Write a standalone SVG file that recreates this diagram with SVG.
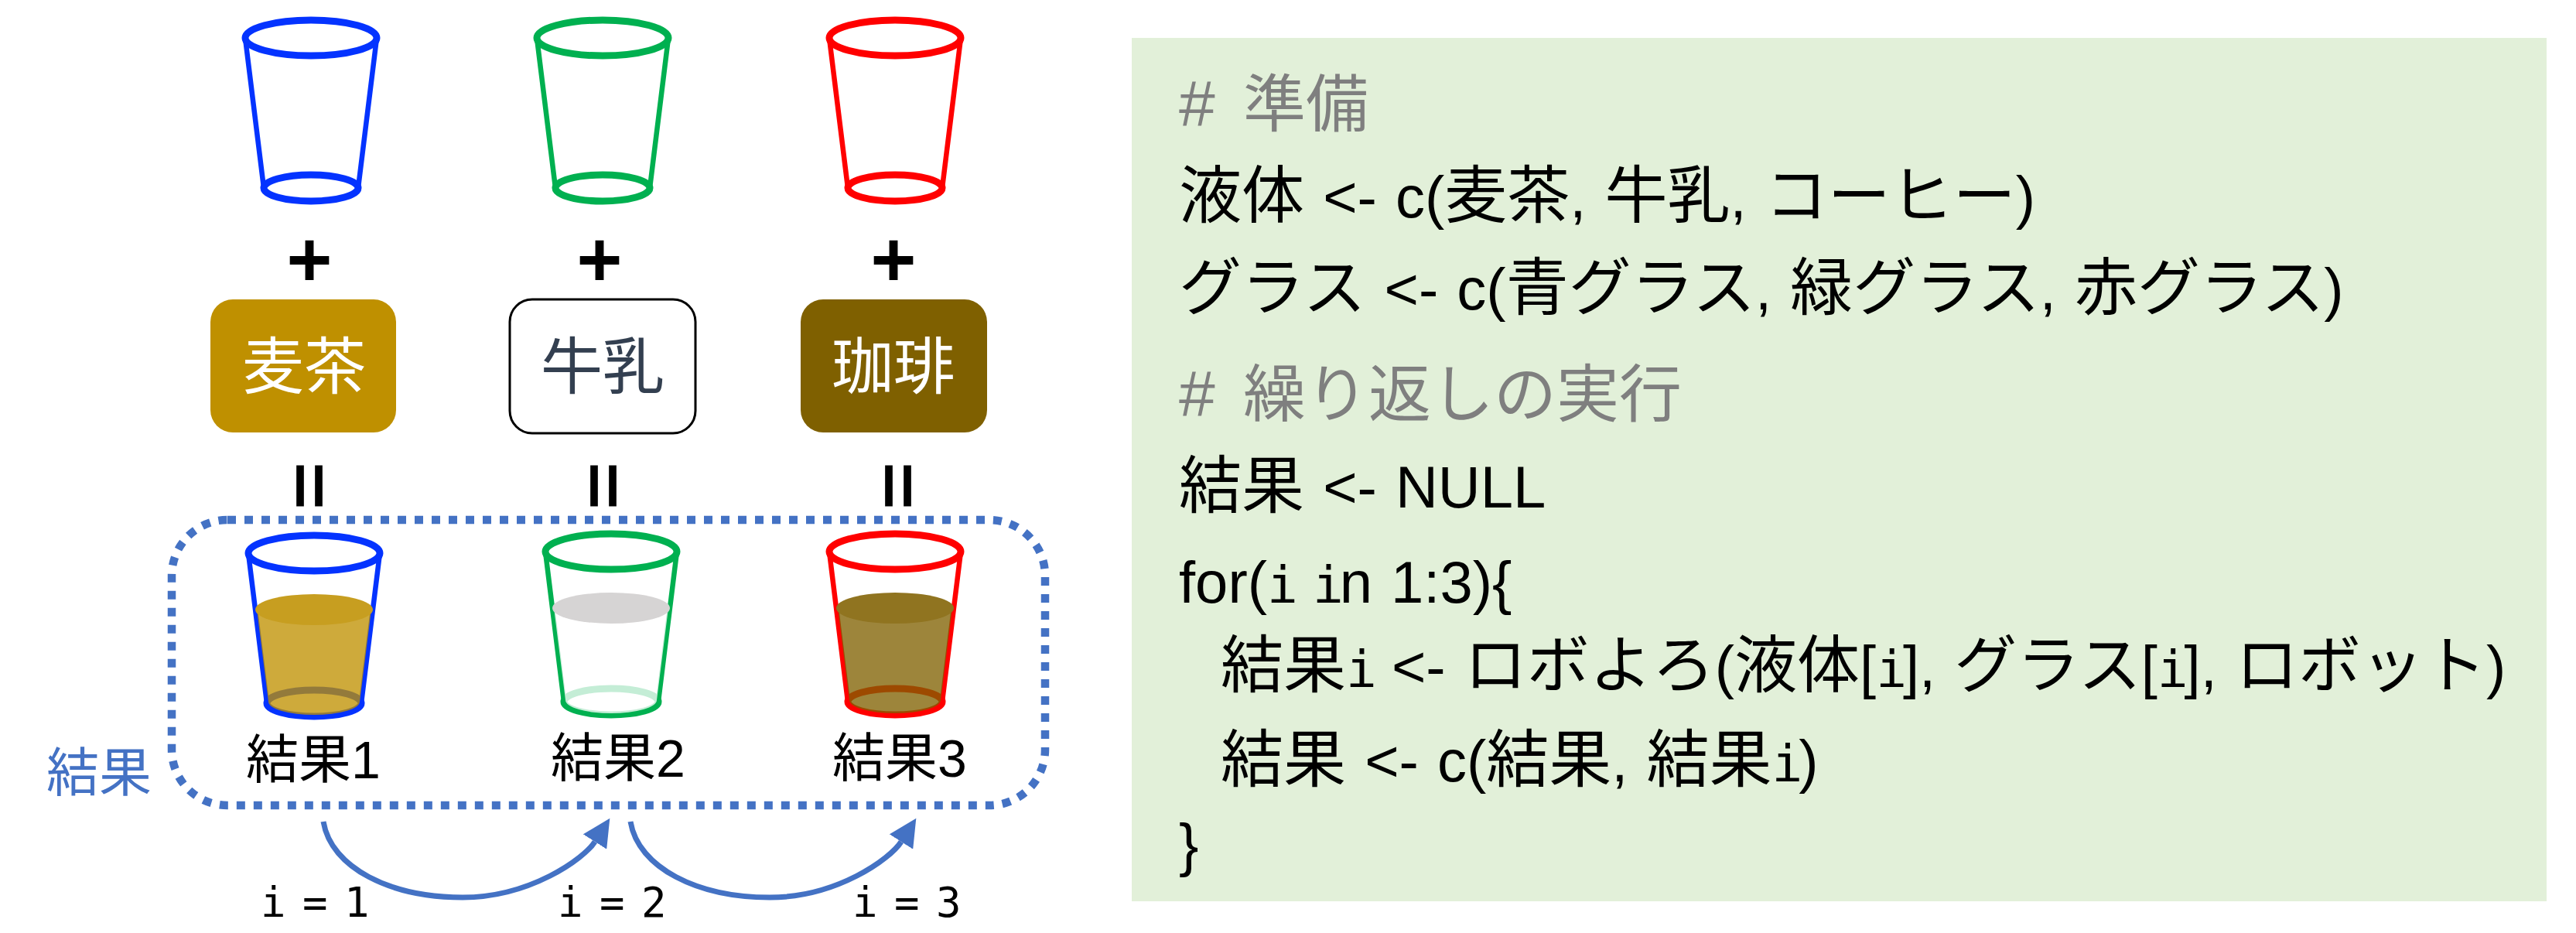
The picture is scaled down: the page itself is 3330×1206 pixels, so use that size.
<svg xmlns="http://www.w3.org/2000/svg" width="3330" height="1206" viewBox="0 0 3330 1206">
<style>
text{font-family:"Liberation Sans","Noto Sans CJK JP",sans-serif;}
.el{fill:none;stroke:currentColor;stroke-width:9;}
.sd{fill:none;stroke:currentColor;stroke-width:6.5;}
.blue{color:#0433FF;}.green{color:#00B050;}.red{color:#FF0000;}
.sym{font-size:96px;text-anchor:middle;stroke:#000;stroke-width:4px;}
.eq{font-size:72px;text-anchor:middle;letter-spacing:4px;stroke:#000;stroke-width:3px;}
.liq{font-size:80px;text-anchor:middle;}
.res{font-size:68px;}
.iv{font-family:"DejaVu Sans Mono",monospace;font-size:54px;letter-spacing:-5.5px;}
.code{font-size:81px;fill:#000;word-spacing:3px;}
.cmt{font-size:81px;fill:#7F7F7F;}
.l{font-size:76px;}
.h{font-size:84px;}
.m{font-family:"DejaVu Sans Mono",monospace;font-size:66px;letter-spacing:-5px;}
.conn{fill:none;stroke:#4472C4;stroke-width:7;}
</style>
<defs>
<g id="glass-shape">
<ellipse class="el" cx="0" cy="0" rx="85" ry="23"/>
<ellipse class="el" cx="0" cy="194" rx="61" ry="17"/>
<path class="sd" d="M-85 0L-61 194M85 0L61 194"/>
</g>
<path id="liq-body" d="M-74 73L-59 192A59 17 0 0 0 59 192L74 73Z" fill-opacity="0.77"/>
<ellipse id="liq-top" cx="0" cy="73" rx="76" ry="20"/>
<marker id="ah" markerUnits="userSpaceOnUse" markerWidth="38" markerHeight="36" refX="0" refY="18" orient="auto">
<path d="M0 0L36 18L0 36Z" fill="#4472C4"/>
</marker>
</defs>
<g id="glass-blue" class="blue"><use href="#glass-shape" transform="translate(402 49)"/></g>
<g id="glass-green" class="green"><use href="#glass-shape" transform="translate(779 49)"/></g>
<g id="glass-red" class="red"><use href="#glass-shape" transform="translate(1157 49)"/></g>
<g id="plus-signs">
<text class="sym" x="400" y="369">+</text>
<text class="sym" x="775" y="369">+</text>
<text class="sym" x="1155" y="369">+</text>
</g>
<g id="box-mugicha"><rect x="272" y="387" width="240" height="172" rx="29" fill="#BF9000"/><text class="liq" x="393" y="502" fill="#fff">麦茶</text></g>
<g id="box-milk"><rect x="659" y="387" width="240" height="173" rx="29" fill="#fff" stroke="#000" stroke-width="3"/><text class="liq" x="779" y="502" fill="#333F50">牛乳</text></g>
<g id="box-coffee"><rect x="1035" y="387" width="241" height="172" rx="29" fill="#7F6000"/><text class="liq" x="1155" y="502" fill="#fff">珈琲</text></g>
<g id="equals-signs">
<text class="eq" x="402" y="653">II</text>
<text class="eq" x="782" y="653">II</text>
<text class="eq" x="1163" y="653">II</text>
</g>
<g id="result-group"><rect x="222" y="672" width="1129" height="369" rx="72" fill="none" stroke="#4472C4" stroke-width="10.5" stroke-dasharray="11 11"/>
<text class="res" x="60" y="1023" fill="#4472C4">結果</text></g>
<g id="result1" class="blue">
<use href="#glass-shape" transform="translate(406 715)"/>
<g transform="translate(406 715)" fill="#BF9000"><use href="#liq-body"/><use href="#liq-top" fill="#C79E20"/></g>
<text class="res" x="318" y="1006" fill="#000">結果1</text>
</g>
<g id="result2" class="green">
<use href="#glass-shape" transform="translate(790 713)"/>
<g transform="translate(790 713)" fill="#fff"><use href="#liq-body"/><use href="#liq-top" fill="#D6D4D4"/></g>
<text class="res" x="712" y="1004" fill="#000">結果2</text>
</g>
<g id="result3" class="red">
<use href="#glass-shape" transform="translate(1157 713)"/>
<g transform="translate(1157 713)" fill="#7F6000"><use href="#liq-body"/><use href="#liq-top" fill="#907420"/></g>
<text class="res" x="1076" y="1004" fill="#000">結果3</text>
</g>
<g id="connectors">
<path class="conn" marker-end="url(#ah)" d="M418 1062C428 1122 505 1160 598 1160C685 1160 755 1110 769 1088"/>
<path class="conn" marker-end="url(#ah)" d="M815 1062C825 1122 902 1160 995 1160C1082 1160 1151 1110 1165 1088"/>
</g>
<g id="iteration-labels">
<text class="iv" x="337" y="1185">i = 1</text>
<text class="iv" x="721" y="1185">i = 2</text>
<text class="iv" x="1102" y="1185">i = 3</text>
</g>
<g id="code-panel">
<rect x="1463" y="49" width="1829" height="1116" fill="#E2F0D9"/>
<text class="cmt" x="1524" y="163"><tspan class="h"># </tspan><tspan dx="13">準備</tspan></text>
<text class="code" x="1524" y="281">液体<tspan class="l"> &lt;- c(</tspan>麦茶<tspan class="l">, </tspan>牛乳<tspan class="l">, </tspan>コーヒー<tspan class="l">)</tspan></text>
<text class="code" x="1524" y="400">グラス<tspan class="l"> &lt;- c(</tspan>青グラス<tspan class="l">, </tspan>緑グラス<tspan class="l">, </tspan>赤グラス<tspan class="l">)</tspan></text>
<text class="cmt" x="1524" y="538"><tspan class="h"># </tspan><tspan dx="13">繰り返しの実行</tspan></text>
<text class="code" x="1524" y="656">結果<tspan class="l"> &lt;- NULL</tspan></text>
<text class="code l" x="1524" y="779">for(<tspan class="m">i</tspan> <tspan class="m">i</tspan>n 1:3){</text>
<text class="code" x="1578" y="888">結果<tspan class="m">i</tspan><tspan class="l"> &lt;- </tspan>ロボよろ<tspan class="l">(</tspan>液体<tspan class="l">[</tspan><tspan class="m">i</tspan><tspan class="l">], </tspan>グラス<tspan class="l">[</tspan><tspan class="m">i</tspan><tspan class="l">], </tspan>ロボット<tspan class="l">)</tspan></text>
<text class="code" x="1578" y="1010">結果<tspan class="l"> &lt;- c(</tspan>結果<tspan class="l">, </tspan>結果<tspan class="m">i</tspan><tspan class="l">)</tspan></text>
<text class="code l" x="1524" y="1118">}</text>
</g>
</svg>
